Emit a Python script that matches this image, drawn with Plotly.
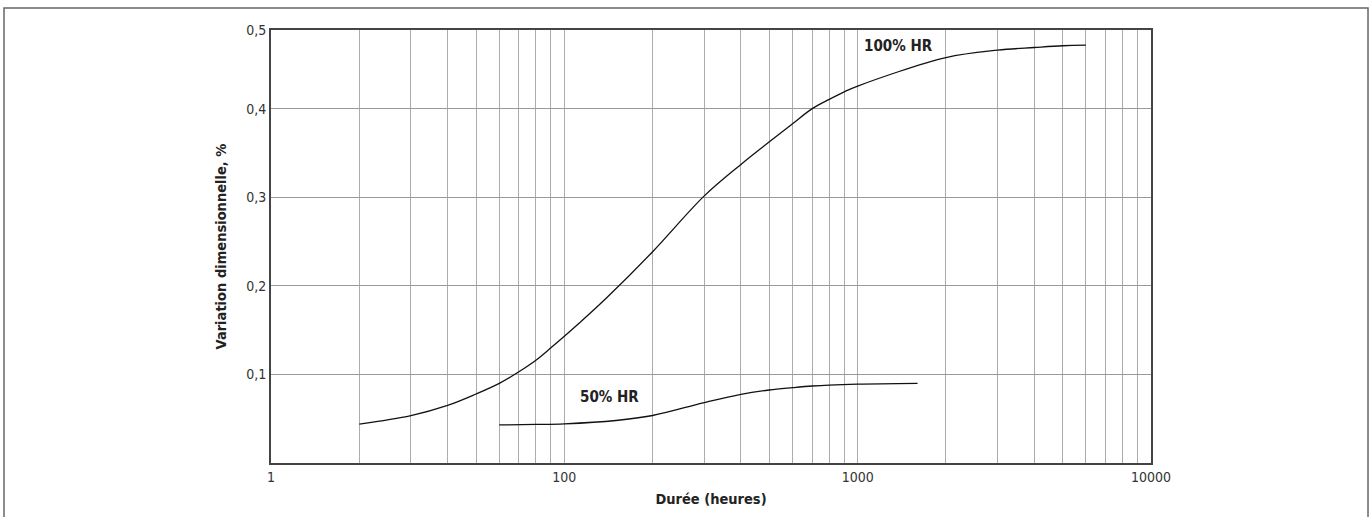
import plotly.graph_objects as go
import math

# ---- data ----
hours_100 = [20, 30, 40, 50, 60, 70, 80, 90, 100, 113, 140, 200, 300, 400, 500, 600, 700, 800, 900, 1000, 2000, 3000, 4000, 5000, 6000]
var_100 = [0.044, 0.0535, 0.065, 0.0779, 0.0899, 0.103, 0.116, 0.130, 0.143, 0.1585, 0.187, 0.2385, 0.3015, 0.337, 0.3625, 0.383, 0.400, 0.4105, 0.419, 0.4255, 0.4576, 0.466, 0.469, 0.471, 0.4716]

hours_50 = [60, 80, 100, 150, 200, 300, 400, 500, 600, 700, 800, 1000, 1600]
var_50 = [0.043, 0.0435, 0.0442, 0.048, 0.0536, 0.0682, 0.0775, 0.0824, 0.085, 0.0869, 0.088, 0.089, 0.0899]

x_tick_vals = [10, 20, 30, 40, 50, 60, 70, 80, 90,
               100, 200, 300, 400, 500, 600, 700, 800, 900,
               1000, 2000, 3000, 4000, 5000, 6000, 7000, 8000, 9000, 10000]
x_tick_text = ["1"] + [""] * 8 + ["100"] + [""] * 8 + ["1000"] + [""] * 8 + ["10000"]

y_top = 0.48876
y_tick_vals = [0.1, 0.2, 0.3, 0.4, y_top]
y_tick_text = ["0,1", "0,2", "0,3", "0,4", "0,5"]

FONT = "Liberation Sans Narrow, DejaVu Sans Condensed, sans-serif"

fig = go.Figure()
fig.add_trace(go.Scatter(x=hours_100, y=var_100, mode="lines",
                         line=dict(color="#111111", width=1.3, shape="spline", smoothing=1.0),
                         hoverinfo="skip"))
fig.add_trace(go.Scatter(x=hours_50, y=var_50, mode="lines",
                         line=dict(color="#111111", width=1.3, shape="spline", smoothing=1.0),
                         hoverinfo="skip"))

fig.add_annotation(x=math.log10(1374), y=0.471, text="<b>100% HR</b>", showarrow=False,
                   font=dict(family=FONT, size=15, color="#222222"))
fig.add_annotation(x=math.log10(143), y=0.075, text="<b>50% HR</b>", showarrow=False,
                   font=dict(family=FONT, size=15, color="#222222"))

# outer frame of the figure (open at bottom)
fig.add_shape(type="path", xref="paper", yref="paper",
              path="M -0.3034 -0.14 L -0.3034 1.0506 L 1.2466 1.0506 L 1.2466 -0.14",
              line=dict(color="#666666", width=1.5))

fig.update_layout(
    width=1372, height=517,
    margin=dict(l=271, r=221, t=30, b=52),
    plot_bgcolor="white", paper_bgcolor="white",
    showlegend=False,
    font=dict(family=FONT, color="#333333"),
    xaxis=dict(type="log", range=[1, 4],
               tickvals=x_tick_vals, ticktext=x_tick_text,
               showgrid=True, gridcolor="#ababab", gridwidth=1,
               showline=True, linecolor="#444444", linewidth=2, mirror=True,
               ticks="", tickfont=dict(size=14, color="#333333"),
               title=dict(text="<b>Durée (heures)</b>", font=dict(size=14.5, color="#222222"), standoff=10),
               zeroline=False),
    yaxis=dict(range=[0, y_top],
               tickvals=y_tick_vals, ticktext=y_tick_text,
               showgrid=True, gridcolor="#999999", gridwidth=1,
               showline=True, linecolor="#444444", linewidth=2, mirror=True,
               ticks="", tickfont=dict(size=14, color="#333333"),
               title=dict(text="<b>Variation dimensionnelle, %</b>", font=dict(size=14.5, color="#222222"), standoff=16),
               zeroline=False),
)

fig.write_html("out.html", config={"displayModeBar": False},
               post_script="document.body.style.margin='0';document.body.style.overflow='hidden';")
